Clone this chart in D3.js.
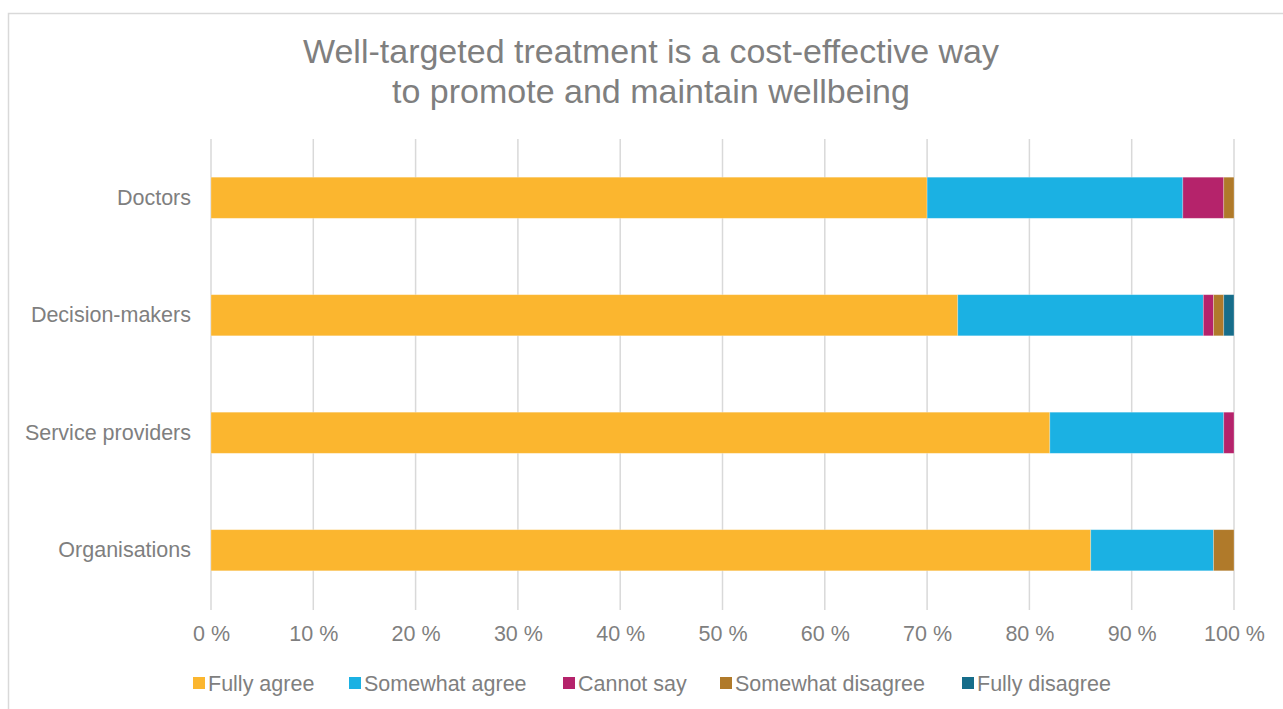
<!DOCTYPE html>
<html>
<head>
<meta charset="utf-8">
<script src="https://cdn.jsdelivr.net/npm/d3@7/dist/d3.min.js"></script>
<style>
  html, body { margin: 0; padding: 0; background: #ffffff; }
  svg { display: block; font-family: "Liberation Sans", Arial, sans-serif; }
</style>
</head>
<body>
<svg id="chart" width="1283" height="709"></svg>
<script>
// Survey groups (top to bottom) and answer shares in percent
const categories = ["Doctors", "Decision-makers", "Service providers", "Organisations"];
const seriesNames = ["Fully agree", "Somewhat agree", "Cannot say", "Somewhat disagree", "Fully disagree"];
const fullyAgree       = [70, 73, 82, 86];
const somewhatAgree    = [25, 24, 17, 12];
const cannotSay        = [4, 1, 1, 0];
const somewhatDisagree = [1, 1, 0, 2];
const fullyDisagree    = [0, 1, 0, 0];
const tickValues = [0, 10, 20, 30, 40, 50, 60, 70, 80, 90, 100];
const titleLines = ["Well-targeted treatment is a cost-effective way", "to promote and maintain wellbeing"];

const colors = ["#fbb62f", "#1bb1e3", "#b5236b", "#b07a2a", "#166d8a"];
const textColor = "#7f7f7f";
const labelSize = 21.5;

const rows = categories.map((c, i) => ({
  category: c,
  "Fully agree": fullyAgree[i],
  "Somewhat agree": somewhatAgree[i],
  "Cannot say": cannotSay[i],
  "Somewhat disagree": somewhatDisagree[i],
  "Fully disagree": fullyDisagree[i]
}));

const svg = d3.select("#chart");

// outer frame
svg.append("rect")
  .attr("x", 8.5).attr("y", 13.5)
  .attr("width", 1290).attr("height", 710)
  .attr("fill", "none").attr("stroke", "#d9d9d9").attr("stroke-width", 1.5);

// title
svg.append("text")
  .attr("x", 651).attr("y", 63)
  .attr("text-anchor", "middle")
  .attr("fill", textColor)
  .attr("font-size", 34)
  .selectAll("tspan").data(titleLines).join("tspan")
  .attr("x", 651).attr("dy", (d, i) => i === 0 ? 0 : 40)
  .text(d => d);

const plot = { left: 211, right: 1234, top: 139, bottom: 609 };

const x = d3.scaleLinear().domain([0, 100]).range([plot.left, plot.right]);
const y = d3.scaleBand().domain(categories).range([plot.top, plot.bottom]).paddingInner(0.65).paddingOuter(0.325);

// vertical gridlines
svg.append("g")
  .selectAll("line").data(tickValues).join("line")
  .attr("x1", d => x(d)).attr("x2", d => x(d))
  .attr("y1", plot.top).attr("y2", plot.bottom + 1)
  .attr("stroke", "#d9d9d9").attr("stroke-width", 1.5);

// stacked bars
const stack = d3.stack().keys(seriesNames);
const layers = stack(rows);

svg.append("g")
  .selectAll("g").data(layers).join("g")
  .attr("fill", (d, i) => colors[i])
  .selectAll("rect").data(d => d).join("rect")
  .attr("x", d => x(d[0]))
  .attr("y", d => y(d.data.category))
  .attr("width", d => x(d[1]) - x(d[0]))
  .attr("height", y.bandwidth())
  .attr("stroke", "#ffffff").attr("stroke-opacity", 0.35).attr("stroke-width", 0.75);

// x axis labels
const xAxis = d3.axisBottom(x).tickValues(tickValues).tickFormat(d => d + " %").tickSize(0).tickPadding(17);
const gx = svg.append("g").attr("transform", `translate(0,${plot.bottom})`).call(xAxis);
gx.select(".domain").remove();
gx.selectAll("text").attr("fill", textColor).attr("font-size", labelSize).attr("font-family", "Liberation Sans, Arial, sans-serif");

// y axis labels
const yAxis = d3.axisLeft(y).tickSize(0).tickPadding(20);
const gy = svg.append("g").attr("transform", `translate(${plot.left},0)`).call(yAxis);
gy.select(".domain").remove();
gy.selectAll("text").attr("fill", textColor).attr("font-size", labelSize).attr("font-family", "Liberation Sans, Arial, sans-serif");

// legend
const legendX = [193, 349, 563, 720, 962];
const legend = svg.append("g").selectAll("g").data(seriesNames).join("g")
  .attr("transform", (d, i) => `translate(${legendX[i]},683)`);
legend.append("rect")
  .attr("x", 0).attr("y", -6).attr("width", 12).attr("height", 12)
  .attr("fill", (d, i) => colors[i]);
legend.append("text")
  .attr("x", 15).attr("y", 7.5)
  .attr("fill", textColor).attr("font-size", labelSize)
  .text(d => d);
</script>
</body>
</html>
